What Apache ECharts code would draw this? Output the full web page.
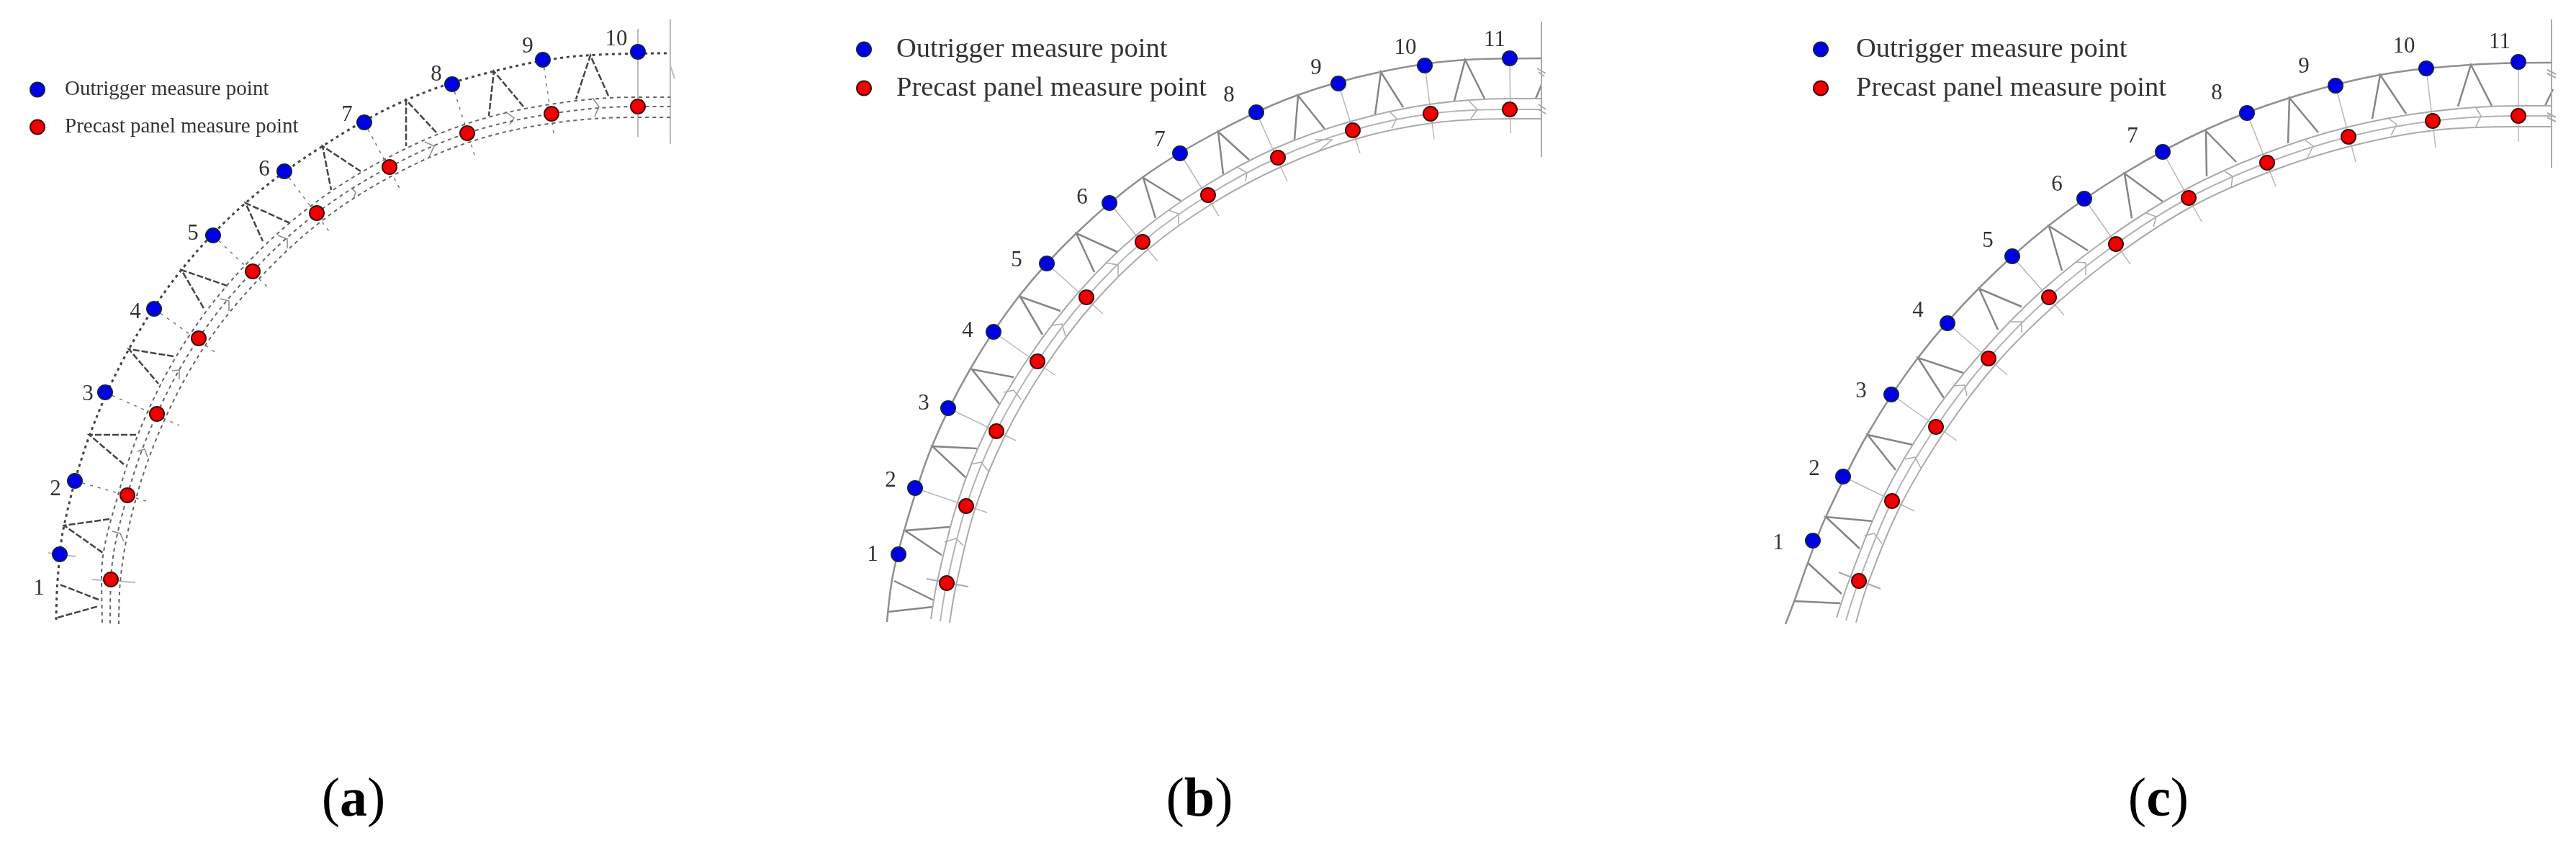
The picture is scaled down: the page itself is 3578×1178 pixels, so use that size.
<!DOCTYPE html>
<html>
<head>
<meta charset="utf-8">
<style>
  html, body { margin: 0; padding: 0; background: #fff; }
  #chart { width: 3578px; height: 1178px; }
</style>
<script src="https://cdn.jsdelivr.net/npm/echarts@6/dist/echarts.min.js"></script>
</head>
<body>
<div id="chart"></div>
<script>
const outriggerName = "Outrigger measure point";
const panelName = "Precast panel measure point";
const captions = ["a", "b", "c"];
const captionPos = [[491, 1113], [1666, 1113], [2998, 1113]];

// (a)
const blueA = [[83,770],[104,668],[146,545],[214,429],[296,327],[395,238],[506,170],[628,117],[754,83],[886,72]];
const redA = [[154,805],[177,688],[218,575],[276,470],[351,377],[440,296],[541,232],[649,185],[766,158],[886,148]];
const numPosA = [[54,818],[77,680],[122,548],[188,434],[268,325],[367,236],[482,160],[606,104],[733,65],[856,55]];
const outerA = [[78,861],[80,806],[89,730],[124,606],[179,485],[252,375],[341,282],[448,203],[564,139],[686,99],[813,77],[931,74]];
const upperA = [[142,865],[141,802],[165,684],[206,570],[265,463],[341,368],[432,286],[535,221],[645,173],[764,145],[886,135],[931,135]];
const midA = [[153,866],[154,805],[177,688],[218,575],[276,470],[351,377],[440,296],[541,232],[649,185],[766,158],[886,148],[931,148]];
const lowerA = [[165,867],[167,808],[189,692],[230,580],[287,477],[361,386],[448,306],[547,243],[653,197],[768,171],[886,163],[931,163]];
const tickEndA = [null,[210,698],[249,591],[300,490],[373,400],[459,324],[558,267],[660,218],[770,191],[886,182]];
const trussA = [
  [[137,833],[83,812]], [[80,858],[137,842]],
  [[152,721],[89,730],[143,768]], [[189,604],[124,604],[172,645]],
  [[241,495],[179,485],[220,533]], [[316,397],[252,375],[284,430]],
  [[403,310],[341,282],[365,335]], [[501,238],[448,203],[460,264]],
  [[606,184],[564,139],[564,203]], [[727,148],[686,99],[679,161]],
  [[845,133],[820,77],[800,138]]
];
const jointA = [
  [[156,738],[167,741],[172,752]], [[191,627],[201,624],[205,635]], [[239,515],[249,514],[249,527]],
  [[306,415],[318,418],[318,432]], [[386,327],[399,332],[399,345]], [[488,261],[494,267],[491,276]],
  [[590,197],[603,203],[596,218]], [[702,155],[714,164],[708,173]], [[823,136],[832,148],[826,162]]
];
const extraA = [
  [[931,27],[931,200]], [[886,40],[886,190]], [[128,805],[188,809]], [[67,768],[105,773]], [[931,91],[937,109]]
];

// (b)
const blueB = [[1248,770],[1271,678],[1317,567],[1380,461],[1454,366],[1541,282],[1639,213],[1745,156],[1859,116],[1979,91],[2097,81]];
const redB = [[1315,810],[1342,703],[1384,599],[1441,502],[1509,413],[1587,336],[1678,271],[1775,219],[1879,181],[1987,158],[2097,152]];
const numPosB = [[1212,771],[1237,668],[1283,561],[1344,460],[1412,362],[1503,275],[1611,195],[1707,133],[1828,95],[1952,67],[2076,56]];
const outerB = [[1232,864],[1240,800],[1257,733],[1294,621],[1348,512],[1415,412],[1495,324],[1589,245],[1693,182],[1800,133],[1917,100],[2037,83],[2141,81]];
const upperB = [[1293,860],[1302,807],[1330,698],[1372,593],[1430,495],[1499,405],[1579,326],[1671,260],[1769,207],[1875,169],[1985,145],[2097,137],[2141,137]];
const midB = [[1306,863],[1315,810],[1342,703],[1384,599],[1441,502],[1509,413],[1587,336],[1678,271],[1775,219],[1879,181],[1987,158],[2097,152],[2141,152]];
const lowerB = [[1319,865],[1328,813],[1354,708],[1396,605],[1452,509],[1519,421],[1595,346],[1685,282],[1781,231],[1883,193],[1989,171],[2097,165],[2141,165]];
const tickEndB = [null,[1371,712],[1411,612],[1465,521],[1532,436],[1608,363],[1693,300],[1788,252],[1889,213],[1992,193],[2098,185]];
const trussB = [
  [[1297,834],[1242,807]], [[1233,850],[1296,843]],
  [[1319,732],[1257,737],[1308,771]], [[1357,623],[1295,620],[1341,663]],
  [[1408,524],[1350,513],[1388,561]], [[1473,432],[1417,412],[1448,465]],
  [[1552,350],[1495,324],[1520,378]], [[1640,279],[1588,247],[1605,303]],
  [[1735,222],[1692,183],[1699,242]], [[1840,179],[1803,133],[1798,194]],
  [[1949,149],[1918,100],[1910,159]], [[2062,137],[2035,83],[2020,140]],
  [[2141,118],[2133,137]]
];
const jointB = [
  [[1312,753],[1328,748],[1338,758]], [[1348,645],[1363,642],[1373,655]], [[1394,545],[1408,542],[1418,555]],
  [[1461,452],[1475,450],[1480,467]], [[1535,365],[1553,368],[1553,383]], [[1623,292],[1637,297],[1637,312]],
  [[1718,232],[1732,240],[1730,252]], [[1826,194],[1850,194],[1833,209]], [[1930,155],[1940,165],[1933,178]],
  [[2040,140],[2052,152],[2043,165]]
];
const extraB = [
  [[2141,30],[2141,218]], [[1287,804],[1345,815]],
  [[2135,95],[2147,102]], [[2137,100],[2145,106]], [[2137,145],[2147,152]], [[2137,152],[2147,158]]
];

// (c)
const blueC = [[2518,751],[2560,662],[2627,548],[2705,449],[2795,356],[2895,276],[3004,211],[3121,157],[3244,119],[3370,95],[3498,86]];
const redC = [[2582,807],[2628,696],[2689,593],[2762,498],[2846,413],[2939,339],[3040,275],[3149,226],[3262,190],[3379,168],[3498,161]];
const numPosC = [[2470,755],[2520,652],[2585,544],[2664,432],[2761,335],[2857,257],[2962,190],[3079,130],[3200,93],[3339,65],[3472,59]];
const outerC = [[2480,867],[2493,833],[2511,782],[2536,718],[2594,603],[2664,497],[2749,400],[2846,313],[2950,241],[3064,180],[3180,136],[3306,104],[3432,90],[3544,87]];
const upperC = [[2551,858],[2570,802],[2616,690],[2678,585],[2752,490],[2837,403],[2932,328],[3034,264],[3144,214],[3259,177],[3377,155],[3498,147],[3544,147]];
const midC = [[2564,862],[2582,807],[2628,696],[2689,593],[2762,498],[2846,413],[2939,339],[3040,275],[3149,226],[3262,190],[3379,168],[3498,161],[3544,161]];
const lowerC = [[2578,865],[2594,812],[2640,702],[2700,601],[2772,506],[2855,423],[2946,350],[3046,286],[3154,238],[3265,203],[3381,181],[3498,176],[3544,176]];
const tickEndC = [null,[2659,710],[2718,612],[2788,521],[2867,438],[2959,367],[3058,308],[3161,259],[3272,225],[3383,205],[3498,197]];
const trussC = [
  [[2558,825],[2511,782]], [[2491,835],[2556,838]],
  [[2601,724],[2536,718],[2583,762]], [[2657,618],[2594,604],[2633,653]],
  [[2727,518],[2664,497],[2700,553]], [[2808,426],[2749,401],[2775,458]],
  [[2900,348],[2846,314],[2864,376]], [[3004,280],[2951,241],[2961,303]],
  [[3106,225],[3064,182],[3065,245]], [[3220,184],[3180,136],[3178,199]],
  [[3342,158],[3306,104],[3295,165]], [[3461,147],[3432,90],[3414,148]],
  [[3546,124],[3535,147]]
];
const jointC = [
  [[2590,744],[2603,741],[2614,755]], [[2646,638],[2660,635],[2668,650]], [[2713,536],[2729,535],[2732,550]],
  [[2792,447],[2808,447],[2808,462]], [[2883,364],[2897,365],[2897,382]], [[2981,296],[2995,301],[2991,315]],
  [[3090,238],[3101,245],[3099,261]], [[3202,195],[3213,203],[3205,219]], [[3317,164],[3329,173],[3321,188]],
  [[3439,150],[3446,161],[3439,176]]
];
const extraC = [
  [[3544,27],[3544,233]], [[2554,795],[2612,818]],
  [[3538,97],[3550,103]], [[3538,102],[3550,108]], [[3538,157],[3550,163]], [[3538,163],[3550,169]]
];

const textFont = "Liberation Serif";
const panels = [
  { blue: blueA, red: redA, num: numPosA, outer: outerA, upper: upperA, mid: midA, lower: lowerA, tickEnd: tickEndA, truss: trussA, joint: jointA, extra: extraA, dashed: true },
  { blue: blueB, red: redB, num: numPosB, outer: outerB, upper: upperB, mid: midB, lower: lowerB, tickEnd: tickEndB, truss: trussB, joint: jointB, extra: extraB, dashed: false },
  { blue: blueC, red: redC, num: numPosC, outer: outerC, upper: upperC, mid: midC, lower: lowerC, tickEnd: tickEndC, truss: trussC, joint: jointC, extra: extraC, dashed: false },
];

function arc(points, color, width, type) {
  return {
    type: "line", data: points, smooth: 0.35, symbol: "none", silent: true, z: 2,
    lineStyle: { color: color, width: width, type: type },
  };
}

function segments(list, color, width, type) {
  return {
    type: "lines", coordinateSystem: "cartesian2d", polyline: true, silent: true, z: 2,
    data: list.map((coords) => ({ coords: coords })),
    lineStyle: { color: color, width: width, type: type, opacity: 1 },
  };
}

function points(name, data, color, border) {
  return {
    name: name, type: "scatter", data: data, symbol: "circle", symbolSize: 20, z: 5,
    itemStyle: { color: color, borderColor: border, borderWidth: 2, opacity: 1 },
  };
}

const series = [];
panels.forEach((p) => {
  const connectors = p.tickEnd
    .map((end, i) => (end ? [p.blue[i], end] : null))
    .filter(Boolean);
  const dots = p.dashed ? [5, 5] : "solid";
  series.push(
    arc(p.outer, p.dashed ? "#444" : "#909090", p.dashed ? 3 : 2.5, p.dashed ? [4, 5] : "solid"),
    arc(p.upper, p.dashed ? "#666" : "#aaa", 2, dots),
    arc(p.mid, p.dashed ? "#666" : "#b4b4b4", 2, dots),
    arc(p.lower, p.dashed ? "#666" : "#aaa", 2, dots),
    segments(connectors, p.dashed ? "#777" : "#b8b8b8", 1.5, p.dashed ? [4, 7] : "solid"),
    segments(p.truss, p.dashed ? "#444" : "#858585", 2.5, p.dashed ? [9, 3] : "solid"),
    segments(p.joint, p.dashed ? "#888" : "#aaa", 1.5, "solid"),
    segments(p.extra, p.dashed ? "#bbb" : "#aaa", 2, "solid"),
    points(outriggerName, p.blue, "#0000e6", "#10205a"),
    points(panelName, p.red, "#f00000", "#4a0a0a"),
    {
      type: "scatter", data: p.num, symbolSize: 0, silent: true, z: 6,
      itemStyle: { opacity: 1 },
      label: {
        show: true, position: "inside", color: "#333", fontFamily: textFont, fontSize: 31,
        formatter: (d) => String(d.dataIndex + 1),
      },
    }
  );
});

series.push({
  type: "scatter", data: captionPos, symbolSize: 0, silent: true, z: 6,
  itemStyle: { opacity: 1 },
  label: {
    show: true, position: "inside",
    formatter: (d) => "{r|(}{b|" + captions[d.dataIndex] + "}{r|)}",
    rich: {
      r: { fontFamily: textFont, fontSize: 76, color: "#000" },
      b: { fontFamily: textFont, fontSize: 76, fontWeight: "bold", color: "#000" },
    },
  },
});

function legendAt(left, top, symbolBox, fontSize, gap) {
  return {
    left: left, top: top, orient: "vertical", padding: 0, selectedMode: false,
    itemWidth: symbolBox, itemHeight: 20, itemGap: gap,
    data: [outriggerName, panelName],
    textStyle: { fontFamily: textFont, fontSize: fontSize, color: "#333" },
  };
}

const myChart = echarts.init(document.getElementById("chart"));
myChart.setOption({
  backgroundColor: "#fff",
  animation: false,
  grid: { left: 0, right: 0, top: 0, bottom: 0 },
  xAxis: { type: "value", min: 0, max: 3578, show: false },
  yAxis: { type: "value", min: 0, max: 1178, inverse: true, show: false },
  legend: [
    legendAt(41, 110, 66, 29, 23),
    legendAt(1189, 49, 80, 38.5, 15),
    legendAt(2518, 49, 88, 38.5, 15),
  ],
  series: series,
});
</script>
</body>
</html>
